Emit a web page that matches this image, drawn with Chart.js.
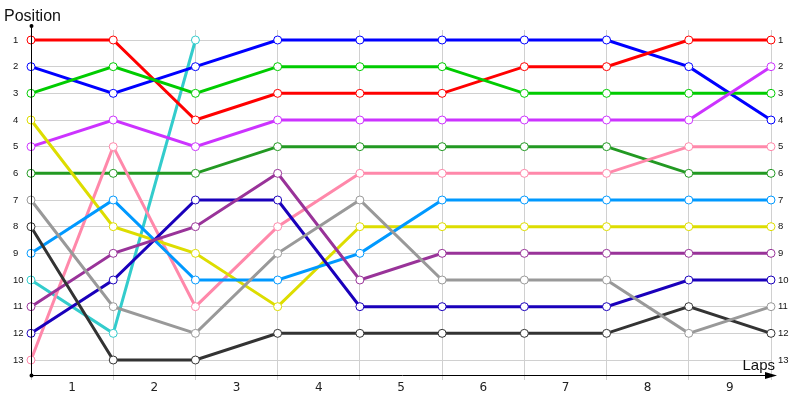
<!DOCTYPE html>
<html>
<head>
<meta charset="utf-8">
<script src="https://cdn.jsdelivr.net/npm/chart.js@4"></script>
<style>
  html, body { margin: 0; padding: 0; background: #fff; }
  #wrap { width: 800px; height: 400px; position: relative; }
</style>
</head>
<body>
<div id="wrap"><canvas id="race"></canvas></div>
<script>
// lap labels shown between the gridlines, positions on both sides
const laps = ['1', '2', '3', '4', '5', '6', '7', '8', '9'];
const positions = [1, 2, 3, 4, 5, 6, 7, 8, 9, 10, 11, 12, 13];

// position of each car at every gridline (start + after each lap)
const red       = [1, 1, 4, 3, 3, 3, 2, 2, 1, 1];
const blue      = [2, 3, 2, 1, 1, 1, 1, 1, 2, 4];
const green     = [3, 2, 3, 2, 2, 2, 3, 3, 3, 3];
const violet    = [5, 4, 5, 4, 4, 4, 4, 4, 4, 2];
const darkGreen = [6, 6, 6, 5, 5, 5, 5, 5, 6, 6];
const yellow    = [4, 8, 9, 11, 8, 8, 8, 8, 8, 8];
const pink      = [13, 5, 11, 8, 6, 6, 6, 6, 5, 5];
const cyan      = [10, 12, 1];
const skyBlue   = [9, 7, 10, 10, 9, 7, 7, 7, 7, 7];
const grey      = [7, 11, 12, 9, 7, 10, 10, 10, 12, 11];
const darkGrey  = [8, 13, 13, 12, 12, 12, 12, 12, 11, 12];
const navy      = [12, 10, 7, 7, 11, 11, 11, 11, 10, 10];
const purple    = [11, 9, 8, 6, 10, 9, 9, 9, 9, 9];

function series(values, color) {
  return {
    data: values.map((v, i) => ({ x: i, y: v })),
    borderColor: color,
    pointBorderColor: color,
    pointBackgroundColor: '#ffffff',
    pointRadius: 4,
    pointBorderWidth: 1,
    borderWidth: 3,
    tension: 0,
    clip: false
  };
}

const decorations = {
  id: 'decorations',
  afterDraw(chart) {
    const ctx = chart.ctx;
    const xs = chart.scales.x;
    const area = chart.chartArea;
    ctx.save();
    // lap labels centred between gridlines
    ctx.fillStyle = '#222';
    ctx.font = '12px "DejaVu Sans"';
    ctx.textAlign = 'center';
    ctx.textBaseline = 'middle';
    laps.forEach((l, i) => {
      ctx.fillText(l, xs.getPixelForValue(i + 0.5), 388);
    });
    // axes
    ctx.strokeStyle = '#000';
    ctx.fillStyle = '#000';
    ctx.lineWidth = 1;
    ctx.beginPath();
    ctx.moveTo(area.left + 0.5, 26);
    ctx.lineTo(area.left + 0.5, area.bottom);
    ctx.moveTo(area.left, area.bottom + 0.5);
    ctx.lineTo(774, area.bottom + 0.5);
    ctx.stroke();
    ctx.beginPath();
    ctx.moveTo(777, area.bottom + 0.5);
    ctx.lineTo(765, area.bottom - 3);
    ctx.lineTo(765, area.bottom + 4);
    ctx.closePath();
    ctx.fill();
    ctx.beginPath();
    ctx.arc(area.left + 0.5, 26, 2, 0, Math.PI * 2);
    ctx.arc(area.left + 0.5, area.bottom + 0.5, 2, 0, Math.PI * 2);
    ctx.fill();
    // axis titles
    ctx.fillStyle = '#111';
    ctx.textBaseline = 'alphabetic';
    ctx.textAlign = 'left';
    ctx.font = '16px "Liberation Sans"';
    ctx.fillText('Position', 4, 21);
    ctx.font = '15px "Liberation Sans"';
    ctx.textAlign = 'right';
    ctx.fillText('Laps', 775, 370);
    ctx.restore();
  }
};

const tickFont = { family: 'Liberation Sans', size: 9.5 };

new Chart(document.getElementById('race'), {
  type: 'line',
  data: {
    datasets: [
      series(grey, '#999999'),
      series(darkGrey, '#333333'),
      series(purple, '#993399'),
      series(navy, '#1a00bb'),
      series(skyBlue, '#0099ff'),
      series(yellow, '#dddd00'),
      series(pink, '#ff88aa'),
      series(darkGreen, '#229922'),
      series(violet, '#cc33ff'),
      series(green, '#00cc00'),
      series(red, '#ff0000'),
      series(blue, '#0000ff'),
      series(cyan, '#33cccc')
    ]
  },
  options: {
    responsive: true,
    maintainAspectRatio: false,
    animation: false,
    layout: { padding: { top: 30, left: 13, right: 0, bottom: 0 } },
    plugins: {
      legend: { display: false },
      tooltip: { enabled: false }
    },
    scales: {
      x: {
        type: 'linear',
        min: 0,
        max: laps.length,
        afterBuildTicks: s => { s.ticks = [...laps.map((l, i) => ({ value: i })), { value: laps.length }]; },
        afterFit: s => { s.height = 25; },
        ticks: { display: false },
        grid: { color: '#d0d0d0', tickLength: 5 },
        border: { display: false }
      },
      y: {
        position: 'left',
        reverse: true,
        min: 0.625,
        max: 13.5625,
        afterBuildTicks: s => { s.ticks = positions.map(p => ({ value: p })); },
        afterFit: s => { s.width = 18; },
        ticks: { font: tickFont, color: '#111', crossAlign: 'far', padding: 4 },
        grid: { color: '#d0d0d0', drawTicks: false },
        border: { display: false }
      },
      y2: {
        position: 'right',
        reverse: true,
        min: 0.625,
        max: 13.5625,
        afterBuildTicks: s => { s.ticks = positions.map(p => ({ value: p })); },
        afterFit: s => { s.width = 29; },
        ticks: { font: tickFont, color: '#111', crossAlign: 'near', padding: 7 },
        grid: { display: false, drawTicks: false },
        border: { display: false }
      }
    }
  },
  plugins: [decorations]
});
</script>
</body>
</html>
